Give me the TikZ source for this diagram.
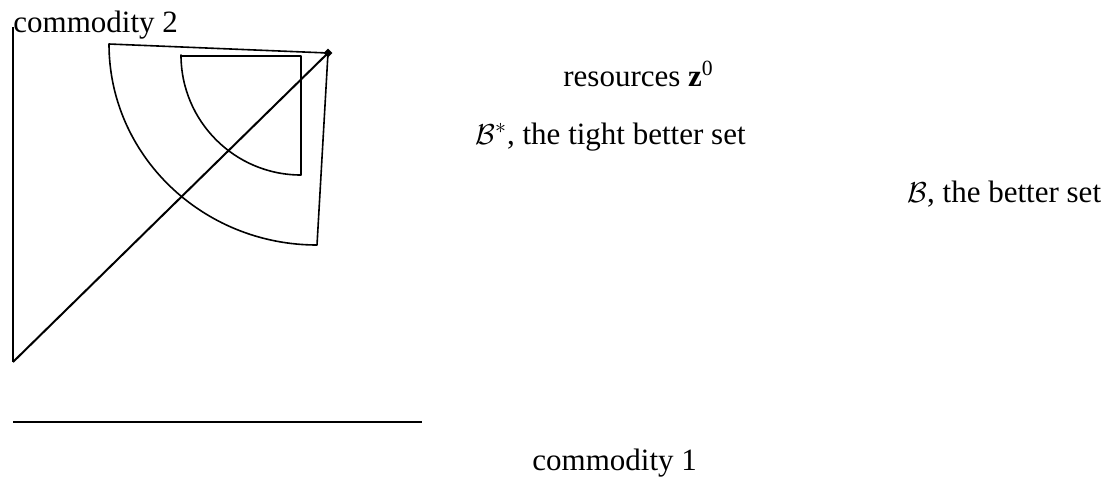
\documentclass[tikz,border=0pt]{standalone}
\usepackage{fontspec}
\setmainfont{Liberation Serif}
\usetikzlibrary{shapes.geometric}
\tikzset{
  lbl/.style={font=\fontsize{15.5}{18}\selectfont,anchor=base west,inner sep=0pt},
  axisline/.style={line width=1.4pt},
  setline/.style={line width=0.8pt,line join=round},
  ray/.style={line width=1pt},
  endowpt/.style={diamond,fill,inner sep=0pt,minimum size=4.5pt},
}
\begin{document}
\begin{tikzpicture}[x=0.5pt,y=-0.5pt]
  \useasboundingbox (0,0) rectangle (1117,477);
  \coordinate (axtop) at (13,27);
  \coordinate (orig) at (13,362);
  \coordinate (hleft) at (13,422);
  \coordinate (hright) at (422,422);
  \coordinate (bout) at (109,44);
  \coordinate (bbot) at (317,245);
  \coordinate (tleft) at (181,56);
  \coordinate (tcorner) at (301,56);
  \coordinate (tbot) at (301,175);
  \node[endowpt] (z0) at (328,53) {};
  \draw[axisline] (axtop) -- (orig);
  \draw[axisline] (hleft) -- (hright);
  \draw[ray] (orig) -- (z0.center);
  \draw[setline] (bout) -- (z0.center) -- (bbot) arc[start angle=90,end angle=180,x radius=208,y radius=201] -- cycle;
  \draw[setline] (tleft) -- (tcorner) -- (tbot) arc[start angle=90,end angle=180,radius=120] -- cycle;
  \node[lbl] (comm2) at (13,32) {commodity 2};
  \node[lbl] (res) at (563,86) {resources \textbf{z}\textsuperscript{0}};
  \node[lbl] (tight) at (475,144) {$\mathcal{B}^*$, the tight better set};
  \node[lbl] (better) at (907,202) {$\mathcal{B}$, the better set};
  \node[lbl] (comm1) at (532,470) {commodity 1};
\end{tikzpicture}
\end{document}
